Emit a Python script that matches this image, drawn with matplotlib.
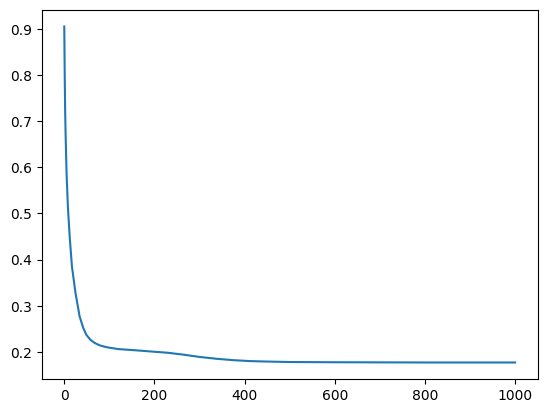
import matplotlib
matplotlib.use('Agg')
import matplotlib.pyplot as plt

# loss
steps = [0, 1, 2, 3, 5, 8, 12, 17, 25, 34, 42, 49, 58, 68, 79, 90, 100, 120, 150,
         190, 230, 264, 300, 338, 375, 412, 450, 500, 600, 800, 1000]
loss = [0.905, 0.80, 0.72, 0.67, 0.59, 0.515, 0.45, 0.385, 0.327, 0.277, 0.252,
        0.237, 0.226, 0.219, 0.214, 0.211, 0.209, 0.206, 0.204, 0.201, 0.198,
        0.194, 0.189, 0.185, 0.182, 0.180, 0.179, 0.178, 0.1775, 0.177, 0.177]

fig, ax = plt.subplots()
ax.plot(steps, loss)
plt.savefig('out.png', bbox_inches='tight')
